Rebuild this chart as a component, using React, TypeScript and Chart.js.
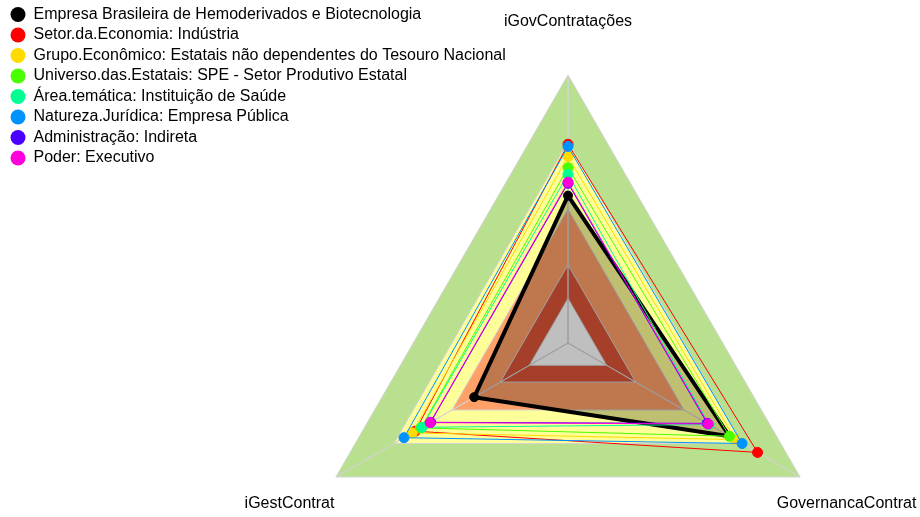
import React, { useEffect, useRef } from 'react';
import { Chart, registerables } from 'chart.js';

Chart.register(...registerables);

// ---- data ----
const axisLabels = ['iGovContratações', 'GovernancaContrat', 'iGestContrat'];

const seriesNames = [
  'Empresa Brasileira de Hemoderivados e Biotecnologia',
  'Setor.da.Economia: Indústria',
  'Grupo.Econômico: Estatais não dependentes do Tesouro Nacional',
  'Universo.das.Estatais: SPE - Setor Produtivo Estatal',
  'Área.temática: Instituição de Saúde',
  'Natureza.Jurídica: Empresa Pública',
  'Administração: Indireta',
  'Poder: Executivo',
];
const seriesColors = ['#000000', '#FF0000', '#FFDB00', '#49FF00', '#00FF92', '#0092FF', '#4900FF', '#FF00DB'];

// values in axis order: iGovContratações, GovernancaContrat, iGestContrat
const hemobras = [0.46, 0.635, 0.285];
const setorEconomia = [0.69, 0.78, 0.59];
const grupoEconomico = [0.635, 0.665, 0.605];
const universoEstatais = [0.585, 0.635, 0.56];
const areaTematica = [0.555, 0.53, 0.555];
const naturezaJuridica = [0.68, 0.70, 0.648];
const administracao = [0.515, 0.52, 0.51];
const poder = [0.52, 0.525, 0.513];
const seriesValues = [hemobras, setorEconomia, grupoEconomico, universoEstatais, areaTematica, naturezaJuridica, administracao, poder];

// background maturity bands
const bandLevels = [0, 0.15, 0.4, 0.7, 1];
const bandColors = ['#DC5538', '#FFA069', '#FFFF99', '#B9E08E'];
const gridColor = '#D3D3D3';

// axis spokes (from centre to the outer level, one per axis)
const spokeValues = [
  [1, -0.2, -0.2],
  [-0.2, 1, -0.2],
  [-0.2, -0.2, 1],
];

// scale: -0.2 is the centre (leaves a hole), 1 is the outer band
const scaleMin = -0.2;
const outerRadiusPx = 268;
const drawingAreaPx = 340;
const scaleMax = scaleMin + (1 - scaleMin) * drawingAreaPx / outerRadiusPx;
const labelValue = 1.24;

const FONT = 'Arial, "Liberation Sans", sans-serif';

const axisLabelPlugin = {
  id: 'axisLabelPlugin',
  afterDraw(chart: any) {
    const s = chart.scales.r;
    const ctx = chart.ctx;
    ctx.save();
    ctx.font = '16px ' + FONT;
    ctx.fillStyle = '#000000';
    ctx.textAlign = 'center';
    ctx.textBaseline = 'middle';
    (chart.data.labels as string[]).forEach((lab, i) => {
      const p = s.getPointPosition(i, s.getDistanceFromCenterForValue(labelValue));
      ctx.fillText(lab, p.x, p.y);
    });
    ctx.restore();
  },
};

export default function App() {
  const canvasRef = useRef<HTMLCanvasElement | null>(null);

  useEffect(() => {
    if (!canvasRef.current) return;
    const nSeries = seriesNames.length;
    const seriesDatasets = seriesValues.map((vals, i) => ({
      label: seriesNames[i],
      data: vals,
      borderColor: seriesColors[i],
      backgroundColor: i === 0 ? 'rgba(0,0,0,0.25)' : 'transparent',
      fill: i === 0 ? 'start' : false,
      borderWidth: i === 0 ? 4 : 1,
      borderJoinStyle: 'round',
      pointRadius: i === 0 ? 4.5 : 5,
      pointBorderWidth: 1,
      pointBackgroundColor: seriesColors[i],
      pointBorderColor: seriesColors[i],
      order: 20 - i,
    }));
    const spokeDatasets = spokeValues.map((vals, k) => ({
      label: 'spoke' + k,
      data: vals,
      borderColor: gridColor,
      borderWidth: 1,
      backgroundColor: 'transparent',
      fill: false,
      pointRadius: 0,
      order: 50,
    }));
    const bandDatasets = bandLevels.map((lv, k) => ({
      label: 'band' + k,
      data: axisLabels.map(() => lv),
      borderColor: gridColor,
      borderWidth: 1,
      pointRadius: 0,
      backgroundColor: k === 0 ? 'transparent' : bandColors[k - 1],
      fill: k === 0 ? false : '-1',
      order: 100 + k,
    }));

    const chart = new Chart(canvasRef.current, {
      type: 'radar',
      data: { labels: axisLabels, datasets: [...seriesDatasets, ...spokeDatasets, ...bandDatasets] as any },
      options: {
        animation: false,
        responsive: true,
        maintainAspectRatio: false,
        layout: { padding: { left: 6, top: 1, right: 0, bottom: 0 } },
        elements: { line: { tension: 0 } },
        scales: {
          r: {
            min: scaleMin,
            max: scaleMax,
            beginAtZero: false,
            ticks: { display: false },
            grid: { display: false },
            angleLines: { display: false },
            pointLabels: { display: false },
          },
        },
        plugins: {
          filler: { propagate: false },
          tooltip: { enabled: false },
          legend: {
            position: 'chartArea',
            align: 'start',
            labels: {
              usePointStyle: true,
              pointStyleWidth: 15,
              boxHeight: 10.6,
              padding: 4.5,
              color: '#000000',
              font: { size: 16, family: FONT },
              generateLabels: (chart: any) => {
                const items = (Chart.defaults.plugins.legend.labels as any).generateLabels(chart);
                return items
                  .filter((it: any) => it.datasetIndex < nSeries)
                  .sort((a: any, b: any) => a.datasetIndex - b.datasetIndex)
                  .map((it: any) => ({
                    ...it,
                    fillStyle: seriesColors[it.datasetIndex],
                    strokeStyle: seriesColors[it.datasetIndex],
                    lineWidth: 0,
                    pointStyle: 'circle',
                  }));
              },
            },
          },
        },
      } as any,
      plugins: [axisLabelPlugin],
    });
    return () => chart.destroy();
  }, []);

  return (
    <div style={{ position: 'absolute', left: 0, top: 0, width: 920, height: 517, overflow: 'hidden', background: '#ffffff' }}>
      <div style={{ position: 'absolute', left: 0, top: 2, width: 1130, height: 681 }}>
        <canvas ref={canvasRef} />
      </div>
    </div>
  );
}
